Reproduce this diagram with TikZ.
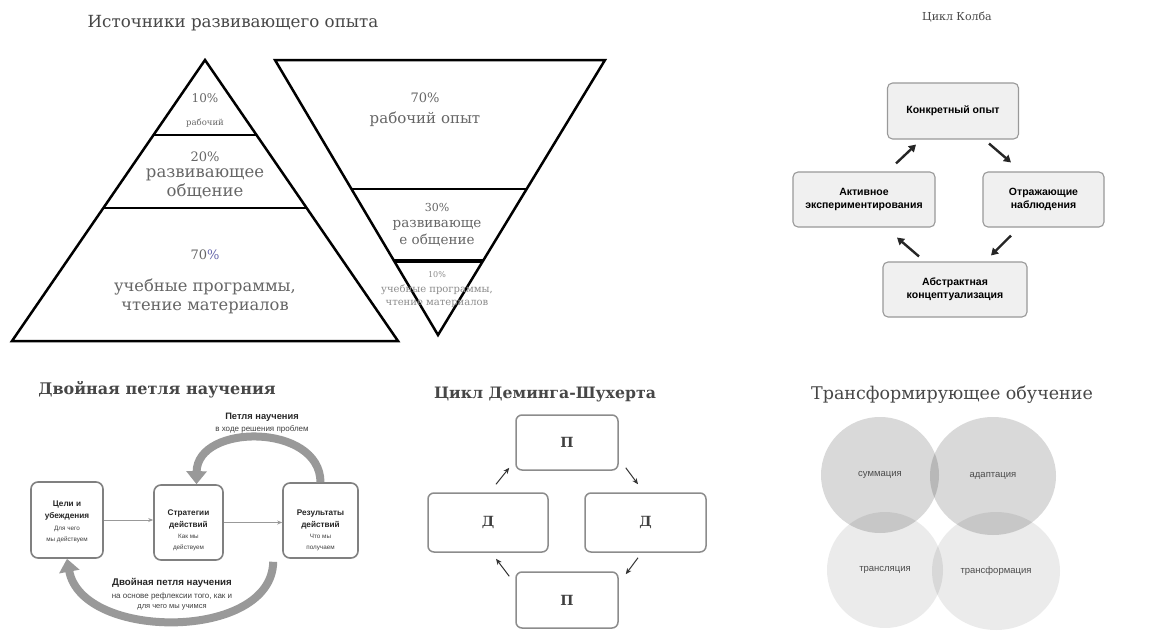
\documentclass[tikz,border=0pt]{standalone}
\usepackage{fontspec}
\setmainfont{DejaVu Serif}
\setsansfont{Liberation Sans}
\usetikzlibrary{arrows.meta,calc,shapes.geometric}
% font size with a 1.2 line spacing, and with an explicit line spacing
\newcommand{\fsz}[1]{\fontsize{#1}{\fpeval{1.2*#1}}\selectfont}
\newcommand{\fszb}[2]{\fontsize{#1}{#2}\selectfont}
\begin{document}
\begin{tikzpicture}[x=1pt,y=-1pt,
  title/.style={text=black!72, inner sep=0pt},
  tri/.style={draw=black, line width=2.5pt, line join=miter},
  ptext/.style={text=black!60, align=center, inner sep=0pt},
  kolbbox/.style={draw=black!40, fill=black!6, rounded corners=5pt, line width=1.1pt,
    font=\sffamily\bfseries\fszb{10.5}{13}, align=center, inner sep=0pt},
  kolbarr/.style={-{Triangle[length=7pt,width=8pt]}, line width=2.4pt, draw=black!85},
  loopbox/.style={draw=black!50, line width=1.6pt, rounded corners=7pt, fill=white, inner sep=0pt},
  boldline/.style={font=\sffamily\bfseries\fszb{8.2}{12}, align=center, inner sep=0pt, text=black!85},
  thinline/.style={font=\sffamily\fszb{6.3}{10.5}, align=center, inner sep=0pt, text=black!75},
  flowarr/.style={-{Stealth[length=5pt,width=4pt]}, draw=black!40, line width=1pt},
  fatarr/.style={-{Triangle[length=13pt,width=20pt]}, draw=black!40, line width=8pt},
  pdcabox/.style={draw=black!45, line width=1.5pt, rounded corners=6pt, fill=white,
    font=\bfseries\fsz{14}, text=black!75, inner sep=0pt},
  pdcaarr/.style={-{Stealth[length=6pt,width=5pt]}, line width=1pt, draw=black!80},
  venn/.style={ellipse, draw=none, fill=black, text=black!70, text opacity=1,
    font=\sffamily\fsz{9.5}, inner sep=0pt},
]
\fill[white] (0,0) rectangle (1152,637);
\useasboundingbox (0,0) rectangle (1152,637);

% ---------- Sources of developmental experience ----------
\node[title, font=\fsz{16.7}] (t1) at (233,23) {Источники развивающего опыта};

% upright pyramid
\coordinate (pA) at (205,60);
\coordinate (pL) at (12,341);
\coordinate (pR) at (398,341);
\draw[tri] (pA) -- (pL) -- (pR) -- cycle;
\draw[tri] ($(pA)!0.267!(pL)$) -- ($(pA)!0.267!(pR)$);
\draw[tri] ($(pA)!0.527!(pL)$) -- ($(pA)!0.527!(pR)$);
\node[ptext, font=\fsz{12}] (p10) at (205,98) {10\%};
\node[ptext, font=\fsz{8.5}] (p10t) at (205,123) {рабочий};
\node[ptext, font=\fsz{13}] (p20) at (205,157) {20\%};
\node[ptext, font=\fszb{16.5}{19}] (p20t) at (205,184) {развивающее\\общение};
\node[ptext, font=\fsz{13}] (p70) at (205,255) {70{\color{blue!45!black!60}\%}};
\node[ptext, font=\fszb{16.3}{19}] (p70t) at (205,296) {учебные программы,\\чтение материалов};

% inverted pyramid
\coordinate (iL) at (275,60);
\coordinate (iR) at (605,60);
\coordinate (iT) at (438,335);
\draw[tri] (iL) -- (iR) -- (iT) -- cycle;
\draw[tri] ($(iL)!0.469!(iT)$) -- ($(iR)!0.469!(iT)$);
\draw[tri, line width=3.6pt] ($(iL)!0.731!(iT)$) -- ($(iR)!0.731!(iT)$);
\node[ptext, font=\fsz{13}] (i70) at (425,98) {70\%};
\node[ptext, font=\fsz{15}] (i70t) at (425,119) {рабочий опыт};
\node[ptext, font=\fsz{11}] (i30) at (437,207) {30\%};
\node[ptext, font=\fszb{13.5}{17}] (i30t) at (437,233) {развивающе\\е общение};
\node[ptext, text=black!45, font=\fsz{8}] (i10) at (437,275) {10\%};
\node[ptext, text=black!45, font=\fszb{10}{13.5}] (i10t) at (437,296) {учебные программы,\\чтение материалов};

% ---------- Kolb cycle ----------
\node[title, font=\fsz{11}] (t2) at (957,17) {Цикл Колба};
\node[kolbbox, minimum width=131pt, minimum height=56pt] (kt) at (953,111) {Конкретный опыт};
\node[kolbbox, minimum width=142pt, minimum height=55pt] (kl) at (864,199.5) {Активное\\экспериментирования};
\node[kolbbox, minimum width=121pt, minimum height=55pt] (kr) at (1043.5,199.5) {Отражающие\\наблюдения};
\node[kolbbox, minimum width=144pt, minimum height=55pt] (kb) at (955,289.5) {Абстрактная\\концептуализация};
\draw[kolbarr] ([xshift=32pt,yshift=8pt]kl.north) -- ([xshift=-37pt,yshift=-5pt]kt.south);
\draw[kolbarr] ([xshift=36pt,yshift=-4pt]kt.south) -- ([xshift=-32.5pt,yshift=9pt]kr.north);
\draw[kolbarr] ([xshift=-32.5pt,yshift=-8pt]kr.south) -- ([xshift=36pt,yshift=6pt]kb.north);
\draw[kolbarr] ([xshift=-36pt,yshift=5pt]kb.north) -- ([xshift=33pt,yshift=-10pt]kl.south);

% ---------- Double-loop learning ----------
\node[title, font=\bfseries\fsz{16}] (t3) at (157,390) {Двойная петля научения};
\node[loopbox, minimum width=72pt, minimum height=76pt] (g1) at (67,520) {};
\node[loopbox, minimum width=69pt, minimum height=75pt] (g2) at (188.5,522.5) {};
\node[loopbox, minimum width=75pt, minimum height=75pt] (g3) at (320.5,520.5) {};
\node[boldline] (g1a) at (67,511) {Цели и\\убеждения};
\node[thinline] (g1b) at (67,534.5) {Для чего\\мы действуем};
\node[boldline] (g2a) at (188.5,519) {Стратегии\\действий};
\node[thinline] (g2b) at (188.5,542.5) {Как мы\\действуем};
\node[boldline] (g3a) at (320.5,519) {Результаты\\действий};
\node[thinline] (g3b) at (320.5,542.5) {Что мы\\получаем};
\draw[flowarr] (g1.east) -- (g2.west |- g1.east);
\draw[flowarr] (g2.east) -- (g3.west |- g2.east);
\draw[fatarr] (g3.north) .. controls (320,423) and (197,423) .. ([xshift=8pt]g2.north);
\draw[fatarr] ([xshift=-9pt,yshift=-3pt]g3.south west) .. controls (272,641) and (82,641) .. (g1.south);
\node[boldline, font=\sffamily\bfseries\fsz{9.3}] (l1a) at (262,417) {Петля научения};
\node[thinline, font=\sffamily\fsz{8}] (l1b) at (262,429) {в ходе решения проблем};
\node[boldline, font=\sffamily\bfseries\fsz{9.7}] (l2a) at (172,583) {Двойная петля научения};
\node[thinline, font=\sffamily\fsz{8}] (l2b) at (172,596) {на основе рефлексии того, как и};
\node[thinline, font=\sffamily\fsz{7.5}] (l2c) at (172,607) {для чего мы учимся};

% ---------- Deming-Shewhart cycle ----------
\node[title, font=\bfseries\fsz{15.7}] (t4) at (545,395) {Цикл Деминга-Шухерта};
\node[pdcabox, minimum width=102pt, minimum height=55pt] (dt) at (567,442.5) {П};
\node[pdcabox, minimum width=120pt, minimum height=59pt] (dl) at (488,522.5) {Д};
\node[pdcabox, minimum width=121pt, minimum height=59pt] (dr) at (645.5,522.5) {Д};
\node[pdcabox, minimum width=102pt, minimum height=56pt] (db) at (567,600) {П};
\draw[pdcaarr] ([xshift=8pt,yshift=8pt]dl.north) -- ([xshift=-6pt,yshift=3pt]dt.south west);
\draw[pdcaarr] ([xshift=7pt,yshift=3pt]dt.south east) -- ([xshift=-7.5pt,yshift=8pt]dr.north);
\draw[pdcaarr] ([xshift=-7.5pt,yshift=-5pt]dr.south) -- ([xshift=7pt,yshift=-3pt]db.north east);
\draw[pdcaarr] ([xshift=-6pt,yshift=-5pt]db.north west) -- ([xshift=8pt,yshift=-6pt]dl.south);

% ---------- Transformative learning ----------
\node[title, font=\fsz{17.5}] (t5) at (952,395) {Трансформирующее обучение};
\node[venn, fill opacity=0.08, minimum width=116pt, minimum height=116pt] (vbl) at (885,570) {трансляция};
\node[venn, fill opacity=0.08, minimum width=128pt, minimum height=118pt] (vbr) at (996,571) {трансформация};
\node[venn, fill opacity=0.15, minimum width=118pt, minimum height=116pt] (vtl) at (880,475) {суммация};
\node[venn, fill opacity=0.15, minimum width=126pt, minimum height=118pt] (vtr) at (993,476) {адаптация};
\end{tikzpicture}
\end{document}
